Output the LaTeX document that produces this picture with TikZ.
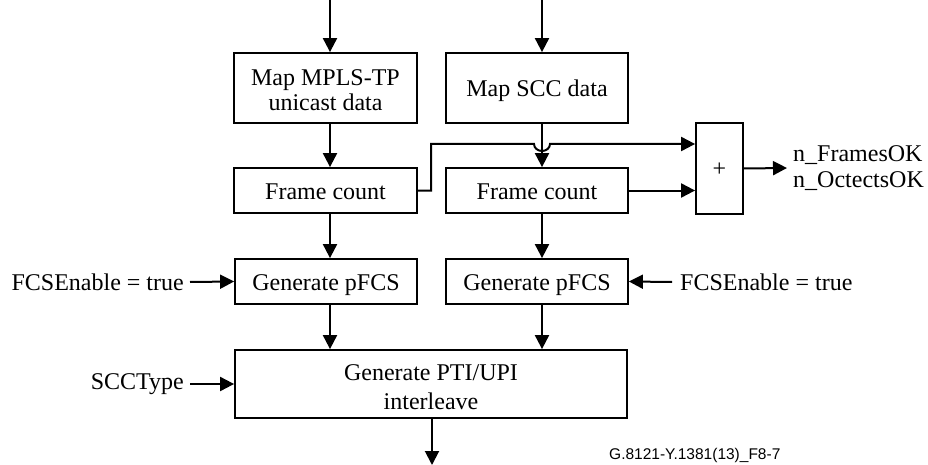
\documentclass[tikz,border=0pt]{standalone}
\usepackage{fontspec}
\setmainfont{Liberation Serif}
\newfontfamily\labelsans{Liberation Sans}
\usetikzlibrary{arrows.meta}
\begin{document}
\begin{tikzpicture}[x=1pt,y=-1pt,
  box/.style={draw,line width=1.8pt,inner sep=0pt,align=center,
    font=\fontsize{24}{26}\selectfont},
  one/.style={text height=19pt,text depth=2pt},
  txt/.style={inner sep=0pt,align=center},
  arr/.style={line width=2pt,-{Triangle[length=14pt,width=14pt]}},
  lbl/.style={inner sep=0pt,font=\fontsize{24}{26}\selectfont,align=left}]
\useasboundingbox (0,0) rectangle (928,465);
\fill[white] (0,0) rectangle (928,465);
% boxes
\node[box,minimum width=183pt,minimum height=70pt] (map1) at (325.5,88) {};
\node[txt,font=\fontsize{24}{25.5}\selectfont] (map1t) at ([yshift=-2pt]map1.center) {Map MPLS-TP\\unicast data};
\node[box,one,minimum width=182pt,minimum height=70pt] (map2) at (537,88) {Map SCC data};
\node[box,one,minimum width=183pt,minimum height=45pt] (fc1) at (325.5,190.5) {Frame count};
\node[box,one,minimum width=182pt,minimum height=45pt] (fc2) at (537,190.5) {Frame count};
\node[box,one,minimum width=182pt,minimum height=45pt] (gp1) at (326,281.5) {Generate pFCS};
\node[box,one,minimum width=182pt,minimum height=45pt] (gp2) at (537,281.5) {Generate pFCS};
\node[box,minimum width=392pt,minimum height=68pt] (pti) at (431,384) {};
\node[txt,font=\fontsize{24}{29}\selectfont] (ptit) at ([yshift=-3pt]pti.center) {Generate PTI/UPI\\interleave};
\node[box,one,minimum width=47pt,minimum height=91pt] (plus) at (719.5,168.5) {+};
% free ends
\coordinate (in1) at (330,0);
\coordinate (in2) at (542,0);
\coordinate (out) at (432,465);
\coordinate (o2) at (787,168);
% labels
\node[lbl,anchor=east] (fe1) at (184,282) {FCSEnable = true};
\node[lbl,anchor=west] (fe2) at (680,282) {FCSEnable = true};
\node[lbl,anchor=east] (scc) at (184,384) {SCCType};
\node[lbl,anchor=west] (nf) at (793,168) {n\_FramesOK\\n\_OctectsOK};
\node[inner sep=0pt,anchor=west,font=\labelsans\fontsize{15.5}{16}\selectfont] (tag) at (609,455) {G.8121-Y.1381(13)\_F8-7};
% vertical connectors
\draw[arr] (in1) -- (map1.north -| in1);
\draw[arr] (in2) -- (map2.north -| in2);
\draw[arr] (map1.south -| in1) -- (fc1.north -| in1);
\draw[arr] (map2.south -| in2) -- (fc2.north -| in2);
\draw[arr] (fc1.south -| in1) -- (gp1.north -| in1);
\draw[arr] (fc2.south -| in2) -- (gp2.north -| in2);
\draw[arr] (gp1.south -| in1) -- (pti.north -| in1);
\draw[arr] (gp2.south -| in2) -- (pti.north -| in2);
\draw[arr] (pti.south -| out) -- (out);
% side inputs
\draw[arr] (fe1.east) ++(6,0) -- (gp1.west);
\draw[arr] (fe2.west) ++(-8,0) -- (gp2.east);
\draw[arr] (scc.east) ++(6,0) -- (pti.west);
% counters to plus
\coordinate (h1) at (534,144);
\draw[arr] (fc1.east) -- (431,190.5) -- (431,144) -- (h1)
  arc[start angle=180,end angle=0,x radius=8,y radius=7] -- (plus.west |- h1);
\draw[arr] (fc2.east) -- (plus.west |- fc2.east);
\draw[arr] (plus.east) -- (o2);
\end{tikzpicture}
\end{document}
